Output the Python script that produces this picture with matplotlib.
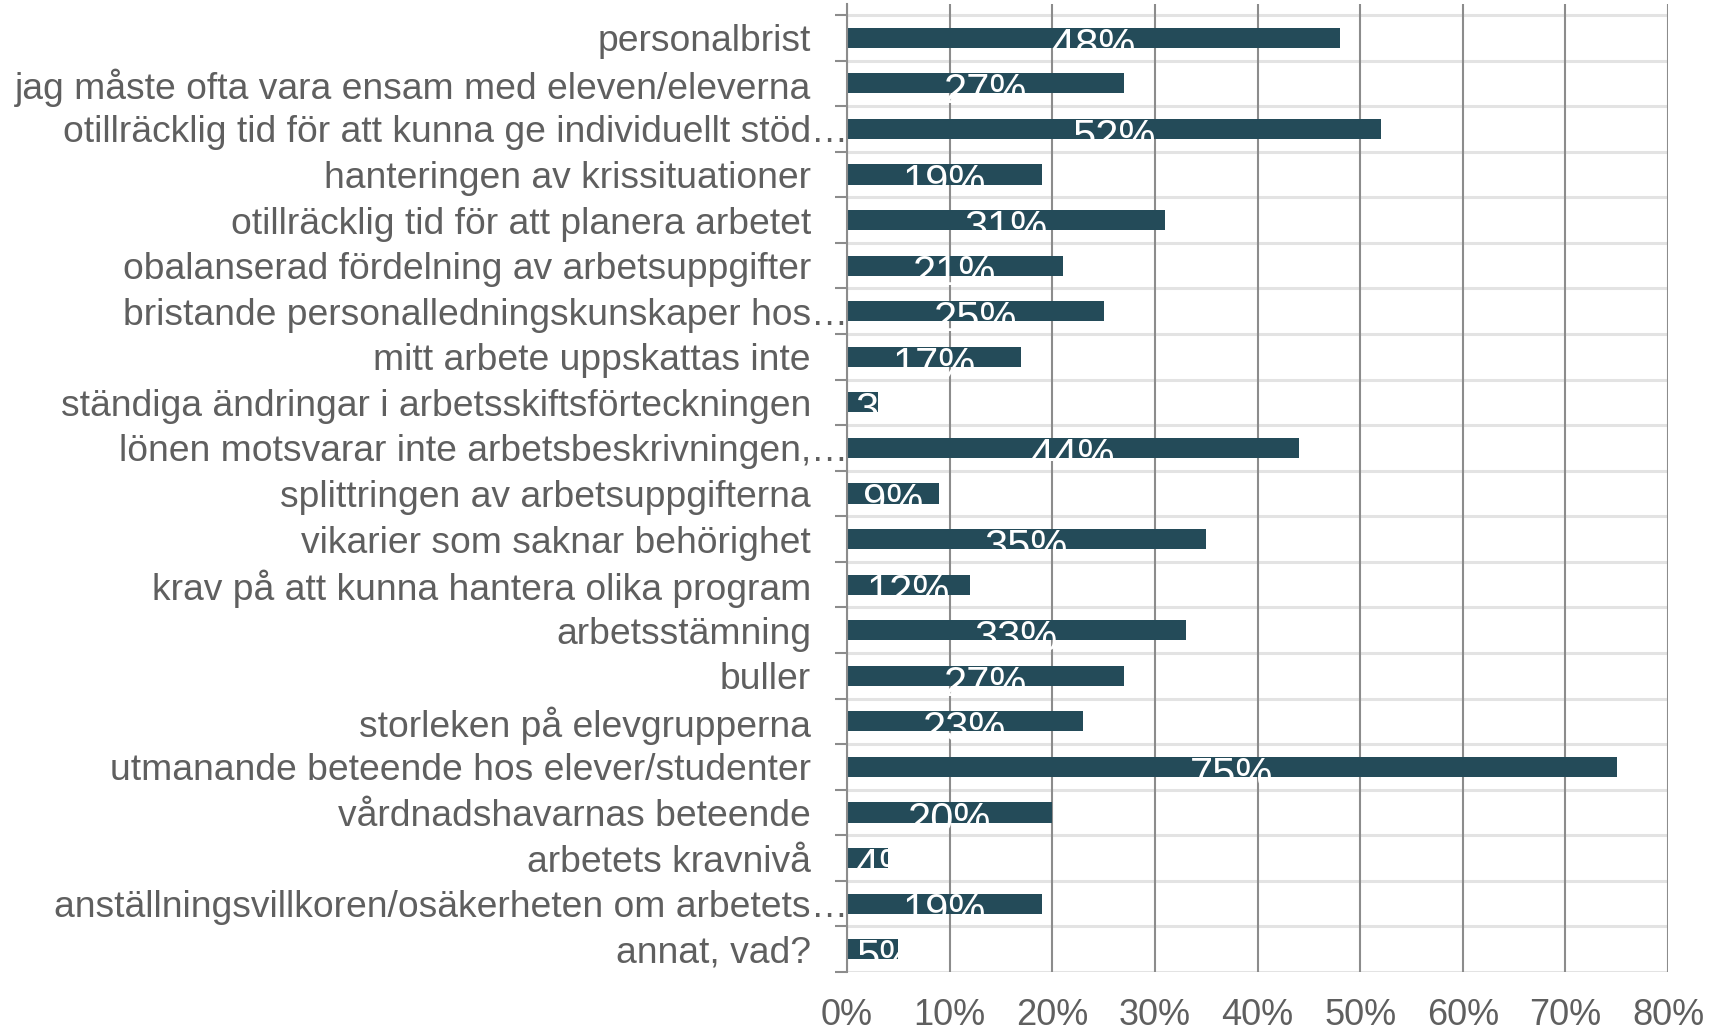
import matplotlib.pyplot as plt
from matplotlib.ticker import MultipleLocator, FuncFormatter

categories = [
    "personalbrist",
    "jag måste ofta vara ensam med eleven/eleverna",
    "otillräcklig tid för att kunna ge individuellt stöd",
    "hanteringen av krissituationer",
    "otillräcklig tid för att planera arbetet",
    "obalanserad fördelning av arbetsuppgifter",
    "bristande personalledningskunskaper hos",
    "mitt arbete uppskattas inte",
    "ständiga ändringar i arbetsskiftsförteckningen",
    "lönen motsvarar inte arbetsbeskrivningen,",
    "splittringen av arbetsuppgifterna",
    "vikarier som saknar behörighet",
    "krav på att kunna hantera olika program",
    "arbetsstämning",
    "buller",
    "storleken på elevgrupperna",
    "utmanande beteende hos elever/studenter",
    "vårdnadshavarnas beteende",
    "arbetets kravnivå",
    "anställningsvillkoren/osäkerheten om arbetets",
    "annat, vad?",
]
# labels that are cut short in the axis
truncated = [2, 6, 9, 19]
values = [48, 27, 52, 19, 31, 21, 25, 17, 3, 44, 9, 35, 12, 33, 27, 23, 75, 20, 4, 19, 5]

bar_color = "#244b59"
text_gray = "#5f5f5f"
grid_dark = "#8c8c8c"
grid_light = "#e3e3e3"

plt.rcParams["font.family"] = ["Liberation Sans", "DejaVu Sans"]

fig = plt.figure(figsize=(17.09, 10.33), dpi=100)
ax = fig.add_axes([847 / 1709, 1 - 972 / 1033, (1668 - 847) / 1709, (972 - 4) / 1033])

ypos = list(range(len(categories)))
bars = ax.barh(ypos, values, height=0.44, color=bar_color, zorder=3)

ax.set_xlim(0, 80)
ax.set_ylim(len(categories) - 0.5, -0.5 - 11 / 45.6)

# x axis: percent labels, no tick marks
ax.xaxis.set_major_locator(MultipleLocator(10))
ax.xaxis.set_major_formatter(FuncFormatter(lambda v, p: f"{v:.0f}%"))
ax.tick_params(axis="x", length=0, pad=19, labelsize=26, labelcolor=text_gray)
ax.grid(axis="x", color=grid_dark, linewidth=1.5, zorder=1)

# y axis: labels at centers, tick marks at category borders
ax.set_yticks(ypos)
ax.set_yticklabels(categories)
ax.set_yticks([y - 0.5 for y in ypos] + [len(categories) - 0.5], minor=True)
ax.tick_params(axis="y", which="major", length=0, pad=26, labelsize=26.8, labelcolor=text_gray)
ax.tick_params(axis="y", which="minor", length=8.6, width=1.5, color=grid_dark)
for b in [y - 0.5 for y in ypos] + [len(categories) - 0.5]:
    ax.axhline(b, color=grid_light, linewidth=2.2, zorder=0.5)

for i in truncated:
    ax.annotate("…", xy=(0, i), xycoords=("axes fraction", "data"),
                xytext=(-36, 0), textcoords="offset pixels",
                ha="left", va="center_baseline", fontsize=26.8, color=text_gray)

for s in ["top", "right", "bottom"]:
    ax.spines[s].set_visible(False)
ax.spines["left"].set_color(grid_dark)
ax.spines["left"].set_linewidth(1.5)
ax.spines["left"].set_zorder(4)

# value labels in white, only visible inside the bars
for bar, v, y in zip(bars, values, ypos):
    t = ax.text(max(v / 2, 3.8), y + 0.435, f"{v}%", ha="center", va="baseline",
                fontsize=30, color="white", zorder=4)
    t.set_clip_path(bar)

fig.savefig("out.png", dpi=100)
